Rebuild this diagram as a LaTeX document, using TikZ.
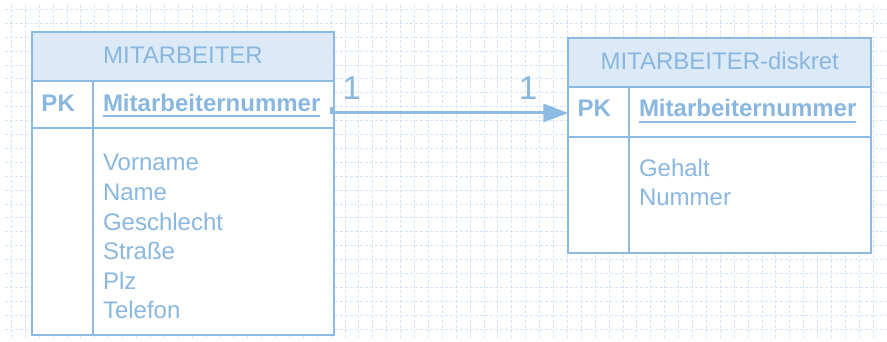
\documentclass[tikz,border=0pt]{standalone}
\usepackage{fontspec}
\setmainfont{Liberation Sans}
\usetikzlibrary{arrows.meta,calc}
\definecolor{erline}{HTML}{8DBAE2}
\definecolor{ertext}{HTML}{8AB7E0}
\definecolor{erhead}{HTML}{DCE9F6}
\definecolor{ergrid}{HTML}{D5E5F5}
\begin{document}
\begin{tikzpicture}[x=1pt,y=-1pt,
  every node/.style={inner sep=0pt,outer sep=0pt,text=ertext,font=\fontsize{24}{28}\selectfont},
  tablebox/.style={draw=erline,line width=2pt,fill=white,rectangle,anchor=north west},
  headbox/.style={draw=erline,line width=2pt,fill=erhead,rectangle,anchor=north west},
  sepline/.style={draw=erline,line width=2pt},
  keytext/.style={font=\fontsize{24}{28}\selectfont\bfseries,anchor=base west},
  attr/.style={anchor=base west},
  card/.style={font=\fontsize{33}{36}\selectfont,anchor=base},
  relation/.style={draw=erline,line width=3pt,-{Triangle[length=25pt,width=18pt]}}
]
\useasboundingbox (0,0) rectangle (887,342);
\fill[white] (0,0) rectangle (887,342);

% background grid
\begin{scope}
  \clip (5,5) rectangle (887,340);
  \foreach \i in {0,...,63}{
    \draw[ergrid,line width=0.9pt,dash pattern=on 3pt off 2pt] ({11.4+13.9*\i},5) -- ({11.4+13.9*\i},340);
  }
  \foreach \j in {0,...,23}{
    \draw[ergrid,line width=0.9pt,dash pattern=on 3pt off 2pt] (5,{9.4+13.9*\j}) -- (887,{9.4+13.9*\j});
  }
\end{scope}

% entity MITARBEITER
\node[tablebox,minimum width=302pt,minimum height=303pt] (emp) at (32,32) {};
\node[headbox,minimum width=302pt,minimum height=48.7pt] (emphead) at (32,32) {};
\node[anchor=base] (emptitle) at (183,63.3) {MITARBEITER};
\draw[sepline] (32,128) -- (334,128);
\draw[sepline] (93.3,80.7) -- (93.3,335);
\node[keytext] (emppk) at (41.5,111.7) {PK};
\node[keytext] (empkey) at (103,111.7) {Mitarbeiternummer};
\draw[erline,line width=2pt] ($(empkey.base west)+(0,4)$) -- ($(empkey.base east)+(0,4)$);
\node[attr] (a1) at (103,171) {Vorname};
\node[attr] (a2) at (103,200.5) {Name};
\node[attr] (a3) at (103,230) {Geschlecht};
\node[attr] (a4) at (103,259.5) {Straße};
\node[attr] (a5) at (103,289) {Plz};
\node[attr] (a6) at (103,318.5) {Telefon};

% entity MITARBEITER-diskret
\node[tablebox,minimum width=302.7pt,minimum height=214.4pt] (disk) at (568.3,38.3) {};
\node[headbox,minimum width=302.7pt,minimum height=48.4pt] (diskhead) at (568.3,38.3) {};
\node[anchor=base] (disktitle) at (719.7,69.3) {MITARBEITER-diskret};
\draw[sepline] (568.3,136.7) -- (871,136.7);
\draw[sepline] (629.3,86.7) -- (629.3,252.7);
\node[keytext] (diskpk) at (577.5,116.7) {PK};
\node[keytext] (diskkey) at (639,116.7) {Mitarbeiternummer};
\draw[erline,line width=2pt] ($(diskkey.base west)+(0,5)$) -- ($(diskkey.base east)+(0,5)$);
\node[attr] (b1) at (639,176.7) {Gehalt};
\node[attr] (b2) at (639,205.7) {Nummer};

% 1:1 relationship
\coordinate (relstart) at (331.5,107);
\draw[relation] (relstart) |- (disk.west |- 0,113);
\node[card] (c1) at (351.7,100) {1};
\node[card] (c2) at (528,100) {1};
\end{tikzpicture}
\end{document}
